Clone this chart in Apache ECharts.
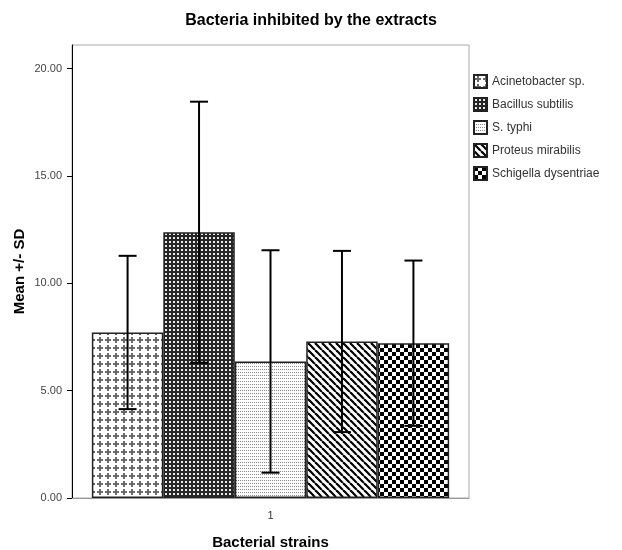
<!DOCTYPE html>
<html lang="en">
  <head>
    <meta charset="UTF-8" />
    <title>Bacteria inhibited by the extracts</title>
    <script src="https://cdn.jsdelivr.net/npm/echarts@6/dist/echarts.min.js"></script>
  </head>
  <body style="margin: 0">
    <div id="main" style="width: 622px; height: 550px"></div>
    <script type="text/javascript">
      const categories = ['1'];
      const strains = ['Acinetobacter sp.', 'Bacillus subtilis', 'S. typhi', 'Proteus mirabilis', 'Schigella dysentriae'];
      const means = [7.71, 12.38, 6.36, 7.29, 7.21];
      const sds = [3.57, 6.08, 5.18, 4.22, 3.85];
      const yTicks = [0, 5, 10, 15, 20];

      // little canvas tiles for the SPSS-like fill patterns
      function tile(w, h, draw) {
        const c = document.createElement('canvas');
        c.width = w;
        c.height = h;
        const ctx = c.getContext('2d');
        ctx.fillStyle = '#fff';
        ctx.fillRect(0, 0, w, h);
        draw(ctx);
        return { image: c, repeat: 'repeat' };
      }

      const patterns = [
        tile(8, 8, (ctx) => {
          ctx.fillStyle = '#6a6a6a';
          ctx.fillRect(1, 3, 6, 2);
          ctx.fillRect(3, 1, 2, 6);
        }),
        tile(4, 4, (ctx) => {
          ctx.fillStyle = '#262626';
          ctx.fillRect(0, 0, 4, 4);
          ctx.fillStyle = '#e8e8e8';
          ctx.fillRect(1, 1, 2, 2);
        }),
        tile(2, 3, (ctx) => {
          ctx.fillStyle = '#888';
          ctx.fillRect(0, 0, 1, 1);
        }),
        tile(7, 7, (ctx) => {
          ctx.strokeStyle = '#000';
          ctx.lineWidth = 2.2;
          for (const k of [-7, 0, 7]) {
            ctx.beginPath();
            ctx.moveTo(k, 0);
            ctx.lineTo(k + 7, 7);
            ctx.stroke();
          }
        }),
        tile(8, 8, (ctx) => {
          ctx.fillStyle = '#000';
          ctx.fillRect(0, 0, 4, 4);
          ctx.fillRect(4, 4, 4, 4);
        })
      ];

      const myChart = echarts.init(document.getElementById('main'));

      const barSeries = strains.map((name, i) => ({
        name: name,
        type: 'bar',
        data: [means[i]],
        barGap: '0%',
        barCategoryGap: '10%',
        itemStyle: { color: patterns[i], borderColor: '#222', borderWidth: 1.5 }
      }));

      const errorSeries = {
        type: 'custom',
        z: 5,
        data: means.map((m, i) => [0, m - sds[i], m + sds[i], i]),
        renderItem: (params, api) => {
          const lo = api.coord([api.value(0), api.value(1)]);
          const hi = api.coord([api.value(0), api.value(2)]);
          const band = api.size([1, 0])[0];
          const bw = (band * 0.9) / strains.length;
          const x = lo[0] + (api.value(3) - (strains.length - 1) / 2) * bw;
          const cap = 9;
          const style = { stroke: '#000', lineWidth: 2 };
          return {
            type: 'group',
            children: [
              { type: 'line', shape: { x1: x, y1: lo[1], x2: x, y2: hi[1] }, style: style },
              { type: 'line', shape: { x1: x - cap, y1: hi[1], x2: x + cap, y2: hi[1] }, style: style },
              { type: 'line', shape: { x1: x - cap, y1: lo[1], x2: x + cap, y2: lo[1] }, style: style }
            ]
          };
        }
      };

      const options = {
        animation: false,
        textStyle: { fontFamily: 'Liberation Sans' },
        title: {
          text: 'Bacteria inhibited by the extracts',
          left: 'center',
          top: 8,
          textStyle: { fontSize: 16, fontWeight: 'bold', color: '#000' }
        },
        legend: {
          data: strains,
          orient: 'vertical',
          left: 468,
          top: 69,
          itemWidth: 13,
          itemHeight: 13,
          itemGap: 8,
          icon: 'rect',
          textStyle: { fontSize: 12, color: '#333' }
        },
        grid: {
          left: 72,
          right: 153,
          top: 45,
          bottom: 52,
          outerBoundsMode: 'none',
          show: true,
          borderColor: '#aaa',
          borderWidth: 1
        },
        xAxis: {
          type: 'category',
          data: categories,
          name: 'Bacterial strains',
          nameLocation: 'middle',
          nameGap: 37,
          nameTextStyle: { fontSize: 15, fontWeight: 'bold', color: '#000' },
          axisLine: { lineStyle: { color: '#999' } },
          axisTick: { alignWithLabel: true, length: 5, lineStyle: { color: '#000' } },
          axisLabel: { fontSize: 11, color: '#333', margin: 12 }
        },
        yAxis: {
          type: 'value',
          min: 0,
          max: 21.1,
          interval: 5,
          name: 'Mean +/- SD',
          nameLocation: 'middle',
          nameGap: 45,
          nameMoveOverlap: false,
          nameTextStyle: { fontSize: 15, fontWeight: 'bold', color: '#000' },
          axisLine: { show: true, lineStyle: { color: '#000' } },
          axisTick: { show: true, length: 5, customValues: yTicks, lineStyle: { color: '#000' } },
          axisLabel: {
            fontSize: 11,
            color: '#444',
            margin: 10,
            customValues: yTicks,
            formatter: (v) => v.toFixed(2)
          },
          splitLine: { show: false }
        },
        series: barSeries.concat([errorSeries])
      };

      myChart.setOption(options);
    </script>
  </body>
</html>
